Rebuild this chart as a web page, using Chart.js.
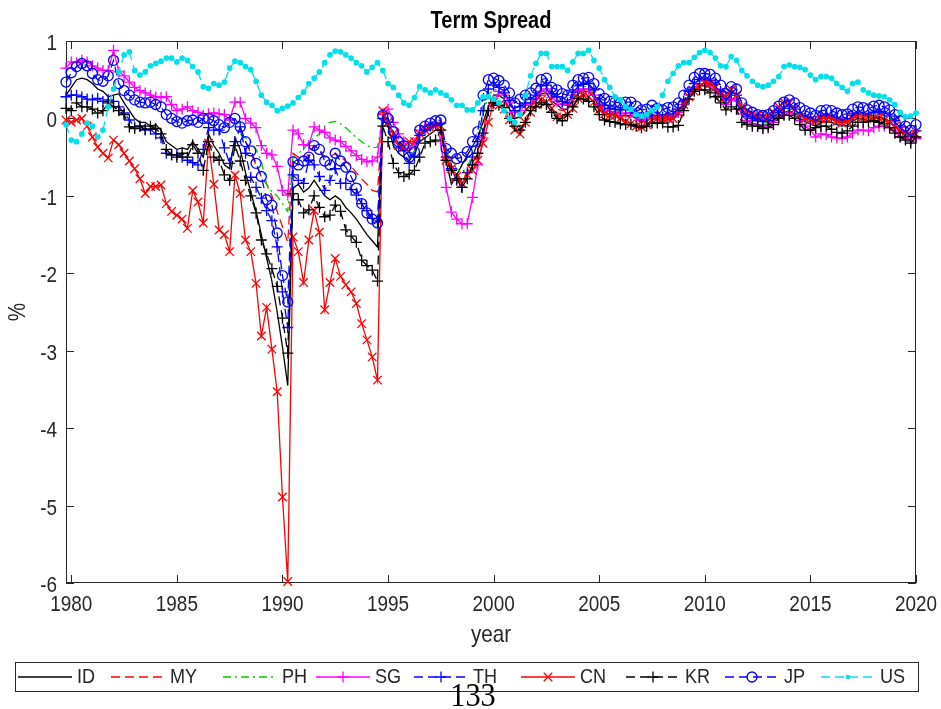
<!DOCTYPE html>
<html>
<head>
<meta charset="utf-8">
<title>Term Spread</title>
<script src="https://cdn.jsdelivr.net/npm/chart.js@4.4.1/dist/chart.umd.min.js"></script>
<style>
  html, body { margin: 0; padding: 0; background: #ffffff; }
  #wrap { position: relative; width: 941px; height: 709px; }
  canvas { display: block; }
</style>
</head>
<body>
<div id="wrap"><canvas id="spread" width="941" height="709"></canvas></div>
<script>
// Quarterly term spreads (long minus short rate, %), first quarter plotted at 1979.75
const firstPeriod = 1979.75;
const periodStep = 0.25;

const xTickYears = [1980, 1985, 1990, 1995, 2000, 2005, 2010, 2015, 2020];
const yTickValues = [-6, -5, -4, -3, -2, -1, 0, 1];

const seriesNames = ['ID', 'MY', 'PH', 'SG', 'TH', 'CN', 'KR', 'JP', 'US'];

const idSpread = [
  0.3, 0.4, 0.5, 0.52, 0.5, 0.45, 0.38, 0.35, 0.28, 0.3,
  0.32, 0.2, 0.1, 0.0, -0.05, -0.05, -0.1, -0.08, -0.15, -0.3,
  -0.35, -0.4, -0.38, -0.4, -0.3, -0.4, -0.5, -0.2, -0.35, -0.45,
  -0.6, -0.65, -0.25, -0.4, -0.7, -0.95, -1.2, -1.5, -1.8, -2.1,
  -2.5, -2.95, -3.45, -0.9, -0.85, -0.95, -0.9, -0.8, -0.9, -1.0,
  -1.05, -1.0, -1.05, -1.15, -1.22, -1.3, -1.4, -1.5, -1.58, -1.66,
  0.0, -0.1, -0.35, -0.45, -0.5, -0.55, -0.45, -0.3, -0.25, -0.2,
  -0.15, -0.15, -0.55, -0.85, -0.73, -0.6, -0.48, -0.36, -0.24, -0.05,
  0.15, 0.3, 0.3, 0.25, 0.12, 0.0, 0.02, 0.1, 0.18, 0.22,
  0.32, 0.33, 0.22, 0.18, 0.12, 0.12, 0.25, 0.32, 0.35, 0.35,
  0.27, 0.15, 0.08, 0.05, 0.04, 0.03, 0.04, 0.04, 0.0, -0.04,
  -0.03, 0.01, -0.02, -0.04, -0.02, -0.01, 0.05, 0.15, 0.28, 0.38,
  0.42, 0.42, 0.4, 0.35, 0.27, 0.16, 0.25, 0.22, 0.05, -0.03,
  -0.06, -0.08, -0.09, -0.08, -0.03, 0.03, 0.08, 0.1, 0.06, 0.0,
  -0.04, -0.07, -0.1, -0.05, -0.04, -0.05, -0.08, -0.1, -0.09, -0.03,
  0.0, -0.01, -0.03, 0.01, 0.02, 0.0, -0.04, -0.1, -0.17, -0.23,
  -0.27, -0.2
];

// Malaysia and the Philippines start in 1988
const myStart = 33;
const mySpread = [
  -0.15, -0.3, -0.45, -0.6, -0.75, -0.85, -1.0,
  -1.2, -1.4, -1.6, -0.45, -0.5, -0.55, -0.45, -0.35, -0.4, -0.5,
  -0.5, -0.45, -0.5, -0.55, -0.62, -0.7, -0.78, -0.85, -0.93, -0.95,
  0.05, -0.05, -0.2, -0.32, -0.38, -0.42, -0.36, -0.2, -0.15, -0.12,
  -0.1, -0.1, -0.45, -0.6, -0.72, -0.8, -0.7, -0.58, -0.42, -0.15,
  0.15, 0.3, 0.28, 0.22, 0.1, -0.02, 0.0, 0.08, 0.15, 0.22,
  0.3, 0.3, 0.2, 0.12, 0.1, 0.12, 0.22, 0.32, 0.36, 0.35,
  0.28, 0.17, 0.1, 0.07, 0.06, 0.04, 0.03, 0.02, -0.02, -0.05,
  -0.04, 0.02, 0.03, 0.02, 0.04, 0.05, 0.1, 0.2, 0.3, 0.38,
  0.44, 0.46, 0.45, 0.4, 0.32, 0.24, 0.32, 0.28, 0.12, 0.05,
  0.02, 0.0, -0.01, 0.0, 0.04, 0.1, 0.15, 0.17, 0.12, 0.05,
  0.0, -0.02, -0.04, 0.0, 0.01, 0.0, -0.03, -0.05, -0.04, 0.01,
  0.04, 0.04, 0.02, 0.05, 0.06, 0.04, 0.0, -0.06, -0.13, -0.18,
  -0.22, -0.17
];

const phStart = 33;
const phSpread = [
  -0.2, -0.25, -0.3, -0.4, -0.55, -0.85, -0.95,
  -1.0, -1.1, -1.2, -0.5, -0.45, -0.4, -0.3, -0.25, -0.2, -0.1,
  -0.05, -0.04, -0.07, -0.12, -0.18, -0.25, -0.3, -0.35, -0.38, -0.37,
  0.02, -0.02, -0.22, -0.33, -0.4, -0.5, -0.42, -0.2, -0.14, -0.1,
  -0.07, -0.06, -0.42, -0.55, -0.65, -0.7, -0.62, -0.48, -0.32, 0.05,
  0.3, 0.38, 0.36, 0.3, 0.2, 0.08, 0.12, 0.17, 0.22, 0.28,
  0.38, 0.4, 0.3, 0.26, 0.2, 0.18, 0.3, 0.38, 0.41, 0.41,
  0.33, 0.21, 0.15, 0.11, 0.1, 0.09, 0.1, 0.1, 0.05, 0.0,
  0.01, 0.06, 0.02, 0.0, 0.03, 0.04, 0.1, 0.2, 0.33, 0.43,
  0.48, 0.48, 0.47, 0.42, 0.33, 0.22, 0.31, 0.28, 0.1, 0.01,
  -0.02, -0.05, -0.06, -0.05, 0.0, 0.06, 0.11, 0.14, 0.1, 0.04,
  0.0, -0.03, -0.06, 0.0, 0.01, 0.0, -0.03, -0.05, -0.04, 0.02,
  0.05, 0.04, 0.02, 0.06, 0.07, 0.05, 0.01, -0.05, -0.13, -0.2,
  -0.25, -0.18
];

const sgSpread = [
  0.65, 0.73, 0.72, 0.75, 0.73, 0.68, 0.65, 0.62, 0.62, 0.88,
  0.6, 0.55, 0.47, 0.4, 0.36, 0.33, 0.3, 0.28, 0.27, 0.28,
  0.18, 0.1, 0.12, 0.15, 0.1, 0.08, 0.04, 0.06, 0.07, 0.06,
  0.05, -0.02, 0.21, 0.21, 0.0, -0.06, -0.12, -0.35, -0.45, -0.47,
  -0.62, -0.93, -0.99, -0.15, -0.2, -0.34, -0.35, -0.11, -0.15, -0.18,
  -0.25, -0.28, -0.3, -0.36, -0.42, -0.48, -0.53, -0.56, -0.55, -0.5,
  0.05, 0.12, -0.05, -0.2, -0.3, -0.38, -0.32, -0.15, -0.1, -0.08,
  -0.05, -0.3, -0.89, -1.21, -1.3, -1.36, -1.36, -1.02, -0.6, -0.25,
  0.1, 0.2, 0.35, 0.3, 0.2, 0.08, 0.1, 0.17, 0.2, 0.25,
  0.35, 0.38, 0.27, 0.22, 0.18, 0.17, 0.3, 0.36, 0.38, 0.38,
  0.3, 0.18, 0.12, 0.09, 0.08, 0.06, 0.07, 0.07, 0.03, -0.02,
  -0.01, 0.04, 0.0, -0.02, 0.01, 0.02, 0.08, 0.18, 0.3, 0.4,
  0.45, 0.45, 0.43, 0.38, 0.3, 0.18, 0.26, 0.23, 0.06, -0.03,
  -0.07, -0.1, -0.12, -0.1, -0.05, 0.01, 0.05, 0.08, 0.04, -0.03,
  -0.1, -0.15, -0.24, -0.2, -0.21, -0.24, -0.25, -0.26, -0.24, -0.19,
  -0.15, -0.15, -0.16, -0.12, -0.1, -0.1, -0.12, -0.15, -0.24, -0.26,
  -0.3, -0.26
];

const thSpread = [
  0.28, 0.3, 0.3, 0.28, 0.25, 0.24, 0.26, 0.22, 0.24, 0.22,
  0.15, 0.07, -0.02, -0.11, -0.1, -0.15, -0.14, -0.2, -0.25, -0.45,
  -0.47, -0.47, -0.5, -0.54, -0.57, -0.6, -0.4, -0.12, -0.15, -0.15,
  -0.38, -0.58, -0.3, -0.11, -0.45, -0.76, -0.89, -1.03, -1.19, -1.32,
  -1.66, -2.24, -2.7, -0.73, -0.8, -0.84, -0.54, -0.6, -0.75, -0.93,
  -0.8, -0.65, -0.84, -0.84, -0.92, -0.99, -1.1, -1.19, -1.29, -1.34,
  0.0, -0.05, -0.25, -0.38, -0.42, -0.58, -0.5, -0.22, -0.15, -0.1,
  -0.08, -0.06, -0.5, -0.65, -0.8, -0.89, -0.7, -0.5, -0.3, 0.1,
  0.38, 0.43, 0.4, 0.33, 0.23, 0.1, 0.15, 0.2, 0.25, 0.3,
  0.42, 0.43, 0.32, 0.28, 0.22, 0.2, 0.34, 0.42, 0.44, 0.45,
  0.37, 0.24, 0.17, 0.13, 0.12, 0.11, 0.12, 0.12, 0.07, 0.02,
  0.03, 0.08, 0.04, 0.02, 0.05, 0.06, 0.12, 0.22, 0.35, 0.45,
  0.5, 0.5, 0.49, 0.44, 0.35, 0.24, 0.33, 0.3, 0.12, 0.03,
  0.0, -0.03, -0.04, -0.03, 0.02, 0.08, 0.13, 0.16, 0.12, 0.06,
  0.02, -0.01, -0.04, 0.02, 0.03, 0.02, -0.01, -0.03, -0.02, 0.04,
  0.07, 0.06, 0.04, 0.08, 0.09, 0.07, 0.03, -0.03, -0.11, -0.18,
  -0.23, -0.16
];

const cnSpread = [
  -0.02, -0.05, -0.02, 0.0, -0.1, -0.24, -0.37, -0.45, -0.51, -0.28,
  -0.34, -0.45, -0.55, -0.65, -0.78, -0.97, -0.88, -0.88, -0.86, -1.1,
  -1.2, -1.25, -1.3, -1.42, -0.93, -1.08, -1.35, -0.32, -0.85, -1.44,
  -1.5, -1.72, -0.73, -0.97, -1.57, -1.72, -2.13, -2.81, -2.44, -2.98,
  -3.53, -4.89, -5.98, -1.53, -1.72, -2.12, -1.57, -1.19, -1.47, -2.47,
  -2.12, -1.81, -2.04, -2.15, -2.24, -2.39, -2.65, -2.86, -3.08, -3.38,
  0.1, -0.05, -0.2, -0.35, -0.37, -0.3, -0.3, -0.2, -0.15, -0.12,
  -0.1, -0.1, -0.54, -0.65, -0.75, -0.84, -0.73, -0.67, -0.54, -0.32,
  -0.05, 0.21, 0.17, 0.12, -0.02, -0.15, -0.2, -0.05, 0.08, 0.18,
  0.24, 0.21, 0.13, 0.02, 0.02, 0.05, 0.13, 0.26, 0.3, 0.28,
  0.21, 0.11, 0.06, 0.04, 0.04, 0.0, -0.04, -0.07, -0.1, -0.11,
  -0.08, -0.02, 0.0, 0.0, 0.0, 0.0, 0.07, 0.18, 0.28, 0.35,
  0.41, 0.47, 0.45, 0.4, 0.3, 0.28, 0.37, 0.3, 0.15, 0.1,
  0.06, 0.04, 0.02, 0.04, 0.08, 0.15, 0.21, 0.2, 0.12, 0.05,
  0.0, -0.02, -0.03, 0.0, 0.0, 0.0, -0.04, -0.06, -0.04, 0.0,
  0.02, 0.02, 0.02, 0.0, 0.0, -0.02, -0.05, -0.1, -0.15, -0.18,
  -0.21, -0.2
];

const krSpread = [
  0.13, 0.1, 0.2, 0.15, 0.15, 0.12, 0.07, 0.1, 0.2, 0.15,
  0.1, 0.05, -0.11, -0.13, -0.1, -0.14, -0.1, -0.13, -0.2, -0.4,
  -0.47, -0.5, -0.45, -0.5, -0.34, -0.45, -0.67, -0.3, -0.5, -0.54,
  -0.73, -0.8, -0.35, -0.55, -0.8, -1.0, -1.22, -1.57, -1.75, -1.94,
  -2.17, -2.58, -3.03, -0.97, -1.05, -1.22, -1.18, -1.0, -1.15, -1.27,
  -1.25, -1.12, -1.2, -1.44, -1.52, -1.6, -1.83, -1.9, -1.96, -2.1,
  -0.1, -0.3, -0.58, -0.7, -0.75, -0.72, -0.67, -0.5, -0.32, -0.3,
  -0.28, -0.15, -0.54, -0.67, -0.78, -0.89, -0.78, -0.6, -0.45, -0.19,
  0.1, 0.2, 0.17, 0.14, 0.0, -0.1, -0.15, -0.05, 0.1, 0.15,
  0.2, 0.18, 0.08, 0.0, -0.03, 0.05, 0.15, 0.26, 0.25, 0.22,
  0.15, 0.05, -0.02, -0.04, -0.05, -0.07, -0.08, -0.08, -0.1, -0.12,
  -0.1, -0.06, -0.06, -0.06, -0.11, -0.11, -0.09, 0.1, 0.25, 0.35,
  0.37, 0.37, 0.33, 0.28, 0.2, 0.11, 0.15, 0.12, -0.05, -0.08,
  -0.1, -0.1, -0.13, -0.12, -0.08, 0.0, 0.04, 0.04, 0.0, -0.08,
  -0.15, -0.15, -0.12, -0.1, -0.1, -0.14, -0.18, -0.19, -0.16, -0.1,
  -0.05, -0.05, -0.04, -0.03, -0.05, -0.07, -0.12, -0.19, -0.24, -0.28,
  -0.32, -0.24
];

const jpSpread = [
  0.47, 0.59, 0.67, 0.71, 0.68, 0.58, 0.5, 0.48, 0.55, 0.75,
  0.45, 0.36, 0.3, 0.24, 0.21, 0.2, 0.21, 0.18, 0.15, 0.05,
  0.0, -0.04, -0.06, -0.03, -0.02, -0.05, 0.0, 0.0, -0.03, -0.08,
  -0.12, -0.05, 0.0, -0.11, -0.3, -0.42, -0.58, -0.75, -1.05, -1.12,
  -1.48, -2.03, -2.37, -0.56, -0.6, -0.55, -0.5, -0.35, -0.4, -0.55,
  -0.6, -0.45, -0.55, -0.63, -0.75, -0.9, -1.1, -1.22, -1.3, -1.35,
  0.04, 0.0, -0.17, -0.3, -0.35, -0.5, -0.43, -0.15, -0.1, -0.06,
  -0.03, -0.02, -0.39, -0.45, -0.52, -0.5, -0.43, -0.3, -0.17, 0.3,
  0.5, 0.52, 0.49, 0.43, 0.33, 0.2, 0.25, 0.3, 0.33, 0.39,
  0.5, 0.52, 0.4, 0.37, 0.32, 0.3, 0.43, 0.5, 0.52, 0.53,
  0.45, 0.32, 0.26, 0.22, 0.21, 0.2, 0.21, 0.21, 0.16, 0.11,
  0.12, 0.17, 0.13, 0.11, 0.14, 0.15, 0.2, 0.3, 0.43, 0.53,
  0.58, 0.58, 0.57, 0.52, 0.43, 0.32, 0.41, 0.38, 0.2, 0.11,
  0.08, 0.05, 0.04, 0.05, 0.1, 0.16, 0.21, 0.24, 0.2, 0.14,
  0.1, 0.07, 0.04, 0.1, 0.11, 0.1, 0.07, 0.05, 0.06, 0.12,
  0.15, 0.14, 0.12, 0.16, 0.17, 0.15, 0.11, 0.05, -0.03, -0.1,
  -0.15, -0.08
];

const usSpread = [
  -0.08, -0.28, -0.3, -0.2, -0.06, -0.1, -0.24, -0.15, 0.15, 0.38,
  0.6, 0.82, 0.86, 0.62, 0.56, 0.6, 0.68, 0.71, 0.74, 0.78,
  0.78, 0.73, 0.78, 0.75, 0.67, 0.6, 0.41, 0.39, 0.45, 0.43,
  0.47, 0.65, 0.74, 0.72, 0.67, 0.63, 0.48, 0.3, 0.21, 0.17,
  0.1, 0.13, 0.16, 0.2, 0.27, 0.34, 0.45, 0.52, 0.6, 0.72,
  0.82, 0.87, 0.86, 0.82, 0.78, 0.72, 0.68, 0.6, 0.66, 0.72,
  0.62, 0.45, 0.4, 0.3, 0.2, 0.17, 0.27, 0.41, 0.37, 0.33,
  0.37, 0.33, 0.3, 0.24, 0.17, 0.17, 0.11, 0.11, 0.2, 0.28,
  0.28, 0.25, 0.2, 0.1, 0.0, -0.05, 0.05, 0.3, 0.55, 0.71,
  0.84, 0.84, 0.67, 0.67, 0.67, 0.62, 0.73, 0.84, 0.84, 0.88,
  0.75, 0.65, 0.5, 0.4, 0.28, 0.24, 0.15, 0.12, 0.05, 0.03,
  0.05, 0.1, 0.15, 0.3, 0.48, 0.58, 0.68, 0.72, 0.72, 0.79,
  0.85, 0.88, 0.85, 0.78, 0.68, 0.67, 0.8, 0.75, 0.62, 0.55,
  0.48, 0.43, 0.41, 0.43, 0.48, 0.54, 0.67, 0.69, 0.67, 0.66,
  0.63, 0.56, 0.5, 0.54, 0.54, 0.52, 0.45, 0.4, 0.35, 0.45,
  0.47, 0.37, 0.33, 0.3, 0.29, 0.28, 0.24, 0.18, 0.08, 0.02,
  0.03, 0.07
];

// ---- styling (line colour, dash pattern, marker) ----
const inkColor = 'rgb(38,38,38)';
const sansFamily = '"Liberation Sans", Arial, Helvetica, sans-serif';
const serifFamily = '"Liberation Serif", "Times New Roman", serif';
const lineWidth = 1.3;

const seriesStyle = {
  ID: { color: '#000000', dash: [],           marker: null },
  MY: { color: '#ff0000', dash: [9, 5],       marker: null },
  PH: { color: '#00c800', dash: [8, 4, 2, 4], marker: null },
  SG: { color: '#ff00ff', dash: [],           marker: 'cross' },
  TH: { color: '#0000ff', dash: [9, 5],       marker: 'cross' },
  CN: { color: '#ff0000', dash: [],           marker: 'crossRot' },
  KR: { color: '#000000', dash: [9, 5],       marker: 'cross' },
  JP: { color: '#0000ff', dash: [9, 5],       marker: 'circle' },
  US: { color: '#00e0ea', dash: [9, 5],       marker: 'dot' }
};
const markerRadius = { cross: 5.5, crossRot: 6, circle: 5, dot: 2.2 };

const seriesValues = {
  ID: [idSpread, 0], MY: [mySpread, myStart], PH: [phSpread, phStart],
  SG: [sgSpread, 0], TH: [thSpread, 0], CN: [cnSpread, 0],
  KR: [krSpread, 0], JP: [jpSpread, 0], US: [usSpread, 0]
};

function toPoints(values, start) {
  return values.map((v, k) => ({ x: firstPeriod + (start + k) * periodStep, y: v }));
}

const datasets = seriesNames.map((name, idx) => {
  const st = seriesStyle[name];
  const [vals, start] = seriesValues[name];
  const isDot = st.marker === 'dot';
  return {
    label: name,
    data: toPoints(vals, start),
    borderColor: st.color,
    borderWidth: lineWidth,
    borderDash: st.dash,
    fill: false,
    tension: 0,
    spanGaps: false,
    clip: false,
    order: seriesNames.length - 1 - idx,
    pointStyle: st.marker ? (isDot ? 'circle' : st.marker) : false,
    pointRadius: st.marker ? markerRadius[st.marker] : 0,
    pointHoverRadius: st.marker ? markerRadius[st.marker] : 0,
    pointBorderWidth: lineWidth,
    pointBorderColor: st.color,
    pointBackgroundColor: isDot ? st.color : 'rgba(0,0,0,0)'
  };
});

// Text drawn slightly condensed, like the exported figure
function drawLabel(ctx, text, x, y, o) {
  const opt = Object.assign({ size: 22, weight: 'normal', align: 'center', baseline: 'middle',
    squeeze: 0.86, color: inkColor, rotate: 0, family: sansFamily }, o || {});
  ctx.save();
  ctx.translate(x, y);
  if (opt.rotate) ctx.rotate(opt.rotate);
  ctx.scale(opt.squeeze, 1);
  ctx.font = `${opt.weight} ${opt.size}px ${opt.family}`;
  ctx.fillStyle = opt.color;
  ctx.textAlign = opt.align;
  ctx.textBaseline = opt.baseline;
  ctx.fillText(text, 0, 0);
  ctx.restore();
}

function drawMarker(ctx, kind, x, y, color) {
  if (!kind) return;
  const r = markerRadius[kind];
  ctx.save();
  ctx.setLineDash([]);
  ctx.lineWidth = lineWidth;
  ctx.strokeStyle = color;
  ctx.fillStyle = color;
  ctx.beginPath();
  if (kind === 'cross') {
    ctx.moveTo(x - r, y); ctx.lineTo(x + r, y);
    ctx.moveTo(x, y - r); ctx.lineTo(x, y + r);
    ctx.stroke();
  } else if (kind === 'crossRot') {
    const d = r * Math.SQRT1_2;
    ctx.moveTo(x - d, y - d); ctx.lineTo(x + d, y + d);
    ctx.moveTo(x - d, y + d); ctx.lineTo(x + d, y - d);
    ctx.stroke();
  } else if (kind === 'circle') {
    ctx.arc(x, y, r, 0, Math.PI * 2);
    ctx.stroke();
  } else if (kind === 'dot') {
    ctx.arc(x, y, r, 0, Math.PI * 2);
    ctx.fill();
  }
  ctx.restore();
}

// Axes box, inward ticks and labels
const axesFrame = {
  id: 'axesFrame',
  beforeDatasetsDraw(chart) {
    const { ctx, chartArea: a, scales: { x, y } } = chart;
    ctx.save();
    ctx.strokeStyle = inkColor;
    ctx.lineWidth = 1;
    ctx.setLineDash([]);
    ctx.strokeRect(a.left + 0.5, a.top + 0.5, a.right - a.left - 1, a.bottom - a.top - 1);
    const tick = 8;
    ctx.beginPath();
    xTickYears.forEach(v => {
      const px = Math.round(x.getPixelForValue(v)) + 0.5;
      ctx.moveTo(px, a.bottom); ctx.lineTo(px, a.bottom - tick);
      ctx.moveTo(px, a.top); ctx.lineTo(px, a.top + tick);
    });
    yTickValues.forEach(v => {
      const py = Math.round(y.getPixelForValue(v)) + 0.5;
      ctx.moveTo(a.left, py); ctx.lineTo(a.left + tick, py);
      ctx.moveTo(a.right, py); ctx.lineTo(a.right - tick, py);
    });
    ctx.stroke();
    ctx.restore();

    xTickYears.forEach(v => {
      drawLabel(ctx, String(v), x.getPixelForValue(v), a.bottom + 22, { size: 22 });
    });
    yTickValues.forEach(v => {
      drawLabel(ctx, String(v), a.left - 9, y.getPixelForValue(v) + 3, { size: 22, align: 'right' });
    });
    drawLabel(ctx, 'year', (a.left + a.right) / 2, a.bottom + 52, { size: 24 });
    drawLabel(ctx, '%', 18, (a.top + a.bottom) / 2, { size: 24, rotate: -Math.PI / 2 });
    drawLabel(ctx, 'Term Spread', (a.left + a.right) / 2, 22, { size: 23, weight: 'bold', color: '#000000', squeeze: 0.87 });
  },
  afterDraw(chart) {
    const { ctx } = chart;
    // legend box below the axes
    const box = { left: 15, top: 662, right: 918, bottom: 691 };
    ctx.save();
    ctx.fillStyle = '#ffffff';
    ctx.fillRect(box.left, box.top, box.right - box.left, box.bottom - box.top);
    ctx.strokeStyle = inkColor;
    ctx.lineWidth = 1;
    ctx.strokeRect(box.left + 0.5, box.top + 0.5, box.right - box.left, box.bottom - box.top);
    ctx.restore();
    const cy = (box.top + box.bottom) / 2;
    const textStart = [77, 170, 282, 375, 473, 580, 685, 784, 880];
    const sampleLength = 54;
    seriesNames.forEach((name, i) => {
      const st = seriesStyle[name];
      const x1 = textStart[i] - 5, x0 = x1 - sampleLength;
      ctx.save();
      ctx.strokeStyle = st.color;
      ctx.lineWidth = lineWidth;
      ctx.setLineDash(st.dash);
      ctx.beginPath();
      ctx.moveTo(x0, cy + 0.5); ctx.lineTo(x1, cy + 0.5);
      ctx.stroke();
      ctx.restore();
      drawMarker(ctx, st.marker, (x0 + x1) / 2, cy + 0.5, st.color);
      drawLabel(ctx, name, textStart[i], cy + 1, { size: 21, align: 'left' });
    });
    // page number under the figure
    drawLabel(ctx, '133', 473, 706, { size: 33, baseline: 'alphabetic', family: serifFamily, color: '#000000', squeeze: 0.92 });
  }
};

new Chart(document.getElementById('spread'), {
  type: 'line',
  data: { datasets },
  options: {
    responsive: false,
    maintainAspectRatio: false,
    devicePixelRatio: 1,
    animation: false,
    events: [],
    layout: { padding: { left: 66, right: 25, top: 41, bottom: 126 } },
    plugins: { legend: { display: false }, title: { display: false }, tooltip: { enabled: false } },
    scales: {
      x: { type: 'linear', min: 1979.75, max: 2020, display: false },
      y: { type: 'linear', min: -6, max: 1, display: false }
    }
  },
  plugins: [axesFrame]
});
</script>
</body>
</html>
